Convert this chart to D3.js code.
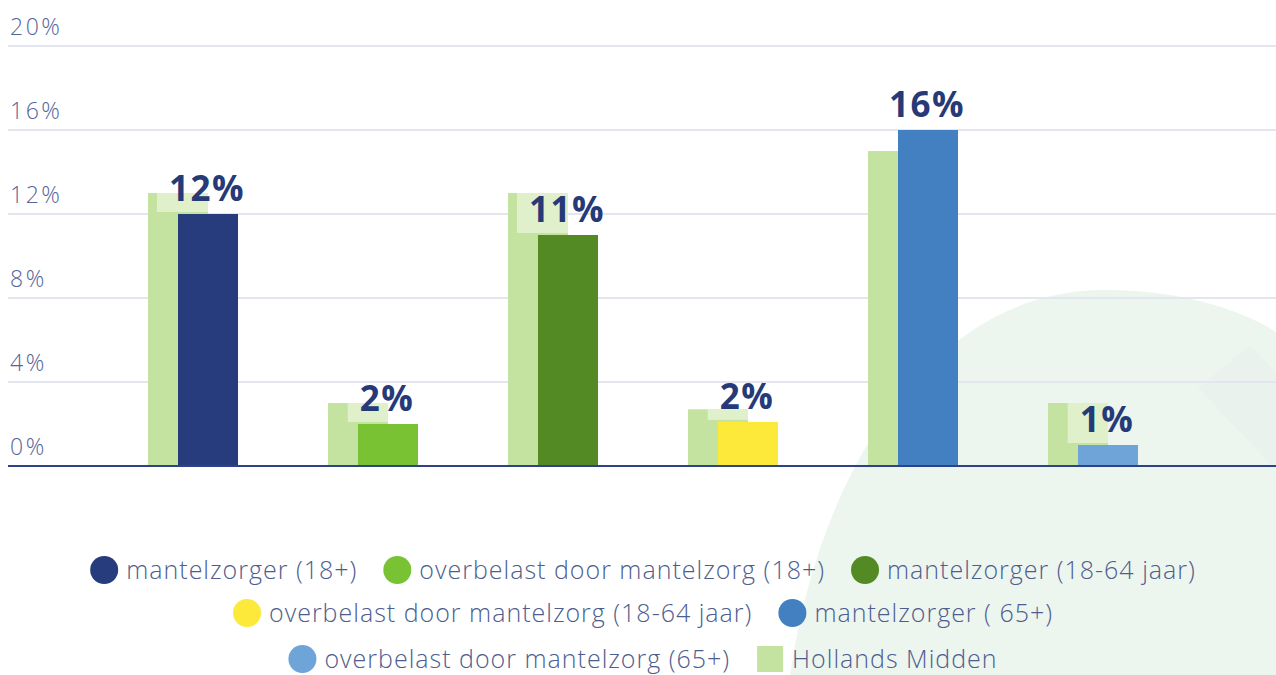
<!DOCTYPE html>
<html lang="nl">
<head>
<meta charset="UTF-8">
<script src="https://d3js.org/d3.v7.min.js"></script>
<title>Mantelzorg</title>
<style>
  body { margin: 0; background: #fff; }
  svg { display: block; font-family: "Open Sans", Lato, sans-serif; }
</style>
</head>
<body>
<svg class="chart"></svg>
<script>
// data
const groups = ['mantelzorger (18+)', 'overbelast door mantelzorg (18+)', 'mantelzorger (18-64 jaar)',
    'overbelast door mantelzorg (18-64 jaar)', 'mantelzorger ( 65+)', 'overbelast door mantelzorg (65+)'];
const values = [12, 2, 11, 2.1, 16, 1];
const labels = ['12%', '2%', '11%', '2%', '16%', '1%'];
const hollandsMidden = [13, 3, 13, 2.7, 15, 3];
const colors = ['#263c7c', '#78c234', '#538a24', '#fde93a', '#4380c2', '#6fa4d8'];
const yTicks = [0, 4, 8, 12, 16, 20];
const hmName = 'Hollands Midden';
const hmColor = '#c5e3a0';

let width = 1276, height = 675;
let svg = d3.select('.chart').attr('width', width).attr('height', height);

// background leaf shape
svg.append('path')
    .attr('d', 'M 790,675 C 825,440 950,292 1100,290 C 1190,289 1250,315 1276,332 L 1276,675 Z')
    .style('fill', '#edf5ef');
svg.append('path')
    .attr('d', 'M 1198,388 L 1250,345 L 1276,372 L 1276,470 Z')
    .style('fill', '#e9f2ec');

var y = d3.scaleLinear().domain([0, 20]).range([466, 46]);
var x = d3.scaleBand().domain(groups).range([103, 1183]).padding(0);

// gridlines + tick labels
svg.selectAll('.grid')
    .data(yTicks.filter(d => d > 0))
    .enter()
    .append('line')
    .attr('x1', 8).attr('x2', width)
    .attr('y1', d => y(d)).attr('y2', d => y(d))
    .style('stroke', '#e4e6ef').style('stroke-width', 2);

svg.selectAll('.tick')
    .data(yTicks)
    .enter()
    .append('text')
    .attr('x', 10)
    .attr('y', d => y(d) - 11)
    .text(d => d + '%')
    .style('font-size', '23px')
    .style('letter-spacing', '2.5px')
    .style('font-weight', 300)
    .style('fill', '#55669a');

let barW = 60;

// Hollands Midden bars (behind)
svg.selectAll('.hm')
    .data(groups)
    .enter()
    .append('rect')
    .attr('x', d => x(d) + x.bandwidth() / 2 - 45)
    .attr('width', barW)
    .attr('y', (d, i) => y(hollandsMidden[i]))
    .attr('height', (d, i) => y(0) - y(hollandsMidden[i]))
    .style('fill', hmColor);

// value labels with a soft white box behind
let lbl = svg.selectAll('.lbl')
    .data(groups)
    .enter()
    .append('g');

lbl.append('text')
    .attr('x', d => x(d) + x.bandwidth() / 2 + 14)
    .attr('y', (d, i) => y(values[i]) - 13)
    .attr('text-anchor', 'middle')
    .text((d, i) => labels[i])
    .style('font-size', '35px')
    .style('letter-spacing', '1.5px')
    .style('font-weight', 700)
    .style('fill', '#263a78');

// the box only shows where it sits on the light bar
lbl.each(function (d, i) {
    let bb = d3.select(this).select('text').node().getBBox();
    let bottom = y(values[i]) - 2;
    let top = Math.max(bb.y - 4, y(hollandsMidden[i]));
    let left = bb.x - 12;
    let right = x(d) + x.bandwidth() / 2 + 15;
    if (bottom > top) {
        d3.select(this).insert('rect', 'text')
            .attr('x', left)
            .attr('width', right - left)
            .attr('y', top)
            .attr('height', bottom - top)
            .style('fill', '#ffffff')
            .style('opacity', 0.45);
    }
});

// main bars
svg.selectAll('.bar')
    .data(groups)
    .enter()
    .append('rect')
    .attr('x', d => x(d) + x.bandwidth() / 2 - 15)
    .attr('width', barW)
    .attr('y', (d, i) => y(values[i]))
    .attr('height', (d, i) => y(0) - y(values[i]))
    .style('fill', (d, i) => colors[i]);

// baseline
svg.append('line')
    .attr('x1', 8).attr('x2', width)
    .attr('y1', y(0)).attr('y2', y(0))
    .style('stroke', '#2e4288').style('stroke-width', 2);

// legend
let items = groups.map((g, i) => ({ name: g, color: colors[i], shape: 'circle' }));
items.push({ name: hmName, color: hmColor, shape: 'square' });
let rows = [[0, 1, 2], [3, 4], [5, 6]];
let rowY = [570, 613, 659];
let centerX = 643;

rows.forEach(function (row, r) {
    let g = svg.append('g');
    let cursor = 0;
    row.forEach(function (idx) {
        let it = items[idx];
        if (it.shape === 'circle') {
            g.append('circle').attr('cx', cursor + 14).attr('cy', 0).attr('r', 14).style('fill', it.color);
        } else {
            g.append('rect').attr('x', cursor + 1).attr('y', -13).attr('width', 26).attr('height', 26).style('fill', it.color);
        }
        let t = g.append('text')
            .attr('x', cursor + 36)
            .attr('y', 9)
            .text(it.name)
            .style('font-size', '25px')
            .style('letter-spacing', '1px')
            .style('font-weight', 300)
            .style('fill', '#4d5d8e');
        cursor += 36 + t.node().getComputedTextLength() + 26;
    });
    cursor -= 26;
    g.attr('transform', 'translate(' + (centerX - cursor / 2) + ',' + rowY[r] + ')');
});
</script>
</body>
</html>
